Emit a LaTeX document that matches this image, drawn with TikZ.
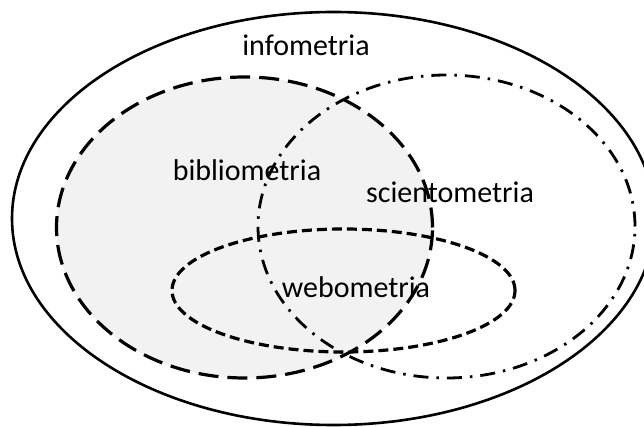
\documentclass[tikz,border=0pt]{standalone}
\usepackage{fontspec}
\setmainfont{Carlito}
\usepackage{tikz}
\tikzset{
  label/.style={font=\fontsize{30}{36}\selectfont, inner sep=0pt},
  biblio/.style={line width=3.2pt, dash pattern=on 20pt off 9pt},
  sciento/.style={line width=2.8pt, dash pattern=on 15pt off 8pt on 2.5pt off 8pt},
  webo/.style={line width=3.2pt, dash pattern=on 10pt off 5pt}
}
\begin{document}
\begin{tikzpicture}[x=1pt,y=-1pt]
\useasboundingbox (0,0) rectangle (644,427);
\clip (0,0) rectangle (644,427);
% Bibliometria (shaded)
\fill[black!5] (244.5,227.5) ellipse (188pt and 150.5pt);
\draw[biblio] (244.5,227.5) ellipse (188pt and 150.5pt);
% Scientometria
\draw[sciento] (446.5,226.5) ellipse (188.5pt and 151.5pt);
% Webometria
\draw[webo] (343.5,290.5) ellipse (171.5pt and 61.5pt);
% Infometria
\draw[line width=2.6pt] (333.5,218.5) ellipse (321.5pt and 206.5pt);
% Labels
\node[label] (info) at (306,45) {infometria};
\node[label] (biblio) at (247,170) {bibliometria};
\node[label] (sciento) at (450,192) {scientometria};
\node[label] (webo) at (356,287) {webometria};
\end{tikzpicture}
\end{document}
